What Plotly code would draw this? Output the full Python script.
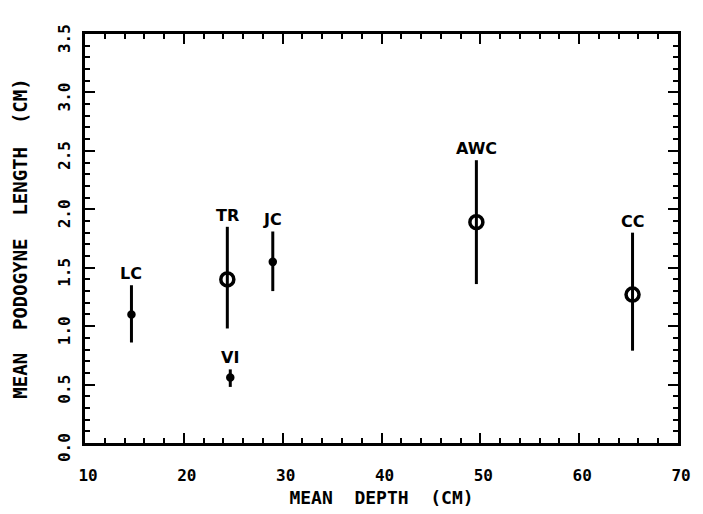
import plotly.graph_objects as go

sites = ["LC", "TR", "VI", "JC", "AWC", "CC"]
depth = [14.7, 24.4, 24.7, 29.0, 49.6, 65.4]
mean_len = [1.10, 1.40, 0.56, 1.55, 1.89, 1.27]
err_up = [0.25, 0.45, 0.07, 0.26, 0.53, 0.53]
err_down = [0.24, 0.42, 0.08, 0.25, 0.53, 0.48]
big_marker = [False, True, False, False, True, True]

MONO = "DejaVu Sans Mono"
SANS = "DejaVu Sans"
NB = "\u00a0"

fig = go.Figure()

sym = ["circle-open" if b else "circle" for b in big_marker]
size = [13 if b else 5 for b in big_marker]

fig.add_trace(go.Scatter(
    x=depth, y=mean_len, mode="markers",
    marker=dict(symbol=sym, size=size, color="black", opacity=1,
                line=dict(color="black", width=3.5)),
    error_y=dict(type="data", symmetric=False, array=err_up, arrayminus=err_down,
                 color="black", thickness=3, width=0),
    showlegend=False, hoverinfo="skip",
))

for s, x, y, u in zip(sites, depth, mean_len, err_up):
    fig.add_annotation(x=x, y=y + u, text=s, showarrow=False, yanchor="bottom",
                       yshift=0, font=dict(family=SANS, size=16, color="black",
                                           weight="bold"))

axis_common = dict(
    showgrid=False, zeroline=False, showline=True, linecolor="black", linewidth=3,
    mirror="allticks", ticks="inside", tickcolor="black", tickwidth=2, ticklen=10,
    tickfont=dict(family=MONO, size=16, color="black", weight="bold"),
    automargin=False,
)

fig.update_xaxes(
    range=[10, 70], dtick=10, tick0=10, ticklabelstandoff=16, ticklabelshift=3,
    minor=dict(dtick=2, ticks="inside", ticklen=5, tickwidth=2, tickcolor="black"),
    title=dict(text=f"MEAN{NB}{NB}DEPTH{NB}{NB}(CM)",
               font=dict(family=MONO, size=18, color="black", weight="bold"),
               standoff=8),
    **axis_common,
)
fig.update_yaxes(
    range=[0, 3.5], dtick=0.5, tick0=0, tickformat=".1f", tickangle=-90,
    ticklabelstandoff=6, ticklabelshift=7,
    minor=dict(dtick=0.1, ticks="inside", ticklen=5, tickwidth=2, tickcolor="black"),
    title=dict(text=f"MEAN{NB}{NB}PODOGYNE{NB}{NB}LENGTH{NB}{NB}(CM)",
               font=dict(family=MONO, size=19, color="black", weight="bold"),
               standoff=22),
    **axis_common,
)

fig.update_layout(
    width=695, height=506,
    margin=dict(l=77, r=25, t=26, b=71),
    paper_bgcolor="white", plot_bgcolor="white",
)

fig.write_html("out.html")
